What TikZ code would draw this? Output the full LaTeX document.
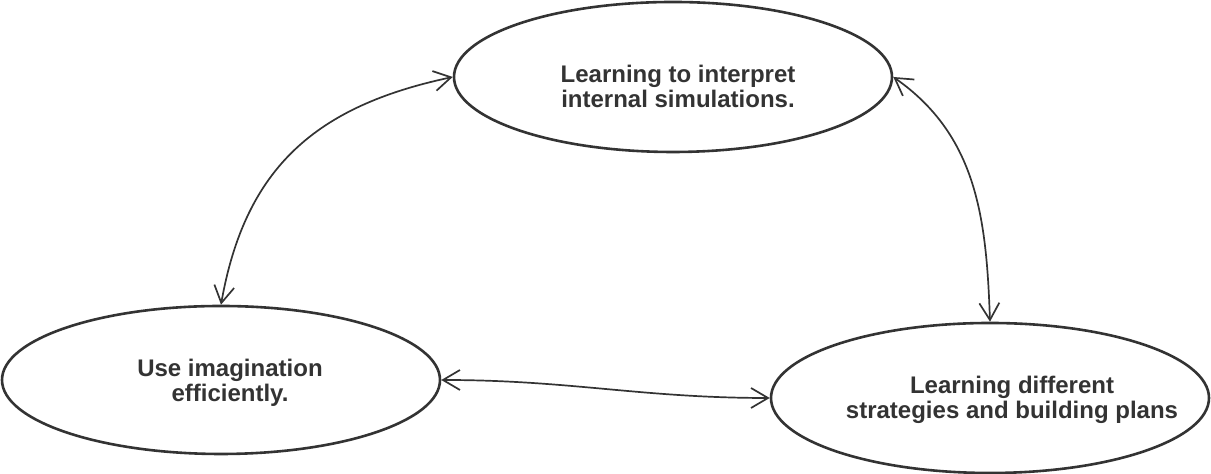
\documentclass[tikz,border=0pt]{standalone}
\usepackage{fontspec}
\setmainfont{Liberation Sans}
\usepackage{xcolor}
\usepackage{tikz}
\usetikzlibrary{arrows.meta,shapes.geometric}
\definecolor{inkgray}{HTML}{333333}

\begin{document}
\begin{tikzpicture}[x=0.5pt,y=0.5pt,
  goal/.style={ellipse,draw=inkgray,line width=1.3pt,inner sep=0pt,
    minimum width=219pt,minimum height=75pt},
  goaltext/.style={align=center,text=inkgray,font=\fontsize{12pt}{12.5pt}\selectfont\bfseries},
  link/.style={{Straight Barb[length=8.5pt,width=10pt]}-{Straight Barb[length=8.5pt,width=10pt]},
    draw=inkgray,line width=0.85pt}]
\useasboundingbox (0,0) rectangle (1211,474);
\node[goal] (interpret) at (673,397) {};
\node[goal,minimum height=74pt] (imagination) at (221,94) {};
\node[goal] (plans) at (990,76) {};
\node[goaltext] (interpretText) at (678,388) {Learning to interpret\\internal simulations.};
\node[goaltext] (imaginationText) at (230,91) {Use imagination\\efficiently.};
\node[goaltext] (plansText) at (1012,74.5) {Learning different\\strategies and building plans};
% connections
\draw[link] (imagination.north) to[out=80,in=192,looseness=1.1] (interpret.west);
\draw[link] (interpret.east) to[out=-35,in=92] (plans.north);
\draw[link] (imagination.east) to[out=0,in=180] (plans.west);
\end{tikzpicture}
\end{document}
